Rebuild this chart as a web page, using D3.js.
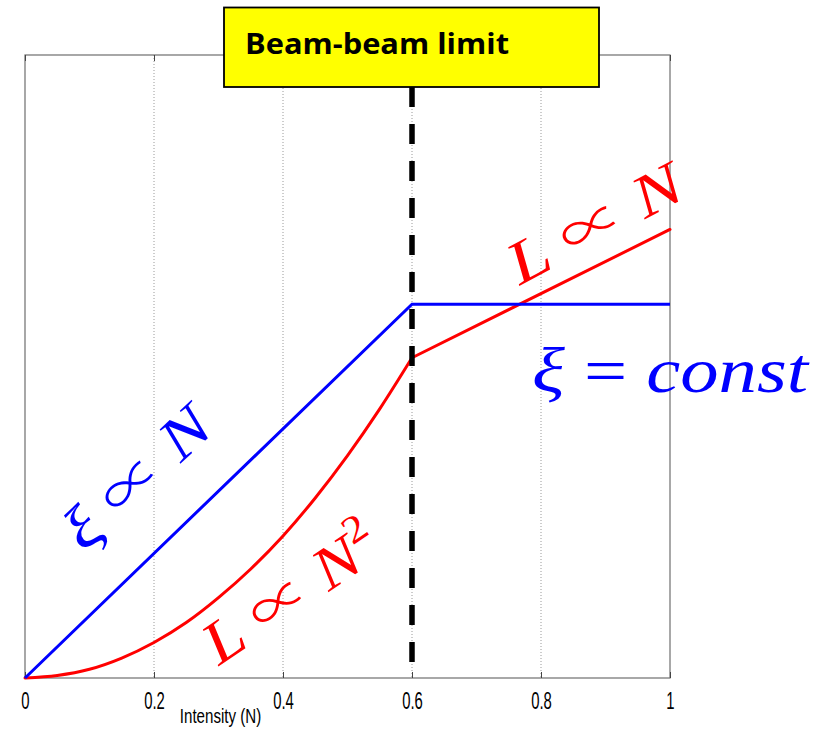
<!DOCTYPE html>
<html>
<head>
<meta charset="utf-8">
<script src="https://cdn.jsdelivr.net/npm/d3@7"></script>
<style>
  body { margin: 0; background: #fff; }
  svg { display: block; }
</style>
</head>
<body>
<div id="chart"></div>
<script>
// values
const xTicks = [0, 0.2, 0.4, 0.6, 0.8, 1];
const xTickLabels = ['0', '0.2', '0.4', '0.6', '0.8', '1'];
const gridTicks = [0.2, 0.4, 0.6, 0.8];

const xiIntensity = [0, 0.6, 1];
const xiValues = [0, 0.6, 0.6];

// luminosity below the limit (curved part)
const lumLowIntensity = [0, 0.05, 0.1, 0.15, 0.2, 0.25, 0.3, 0.35, 0.4, 0.45, 0.5, 0.55, 0.6];
const lumLowValues = [0, 0.004, 0.014, 0.032, 0.057, 0.089, 0.129, 0.175, 0.228, 0.289, 0.357, 0.432, 0.514];
// luminosity above the limit (straight part)
const lumHighIntensity = [0.6, 1];
const lumHighValues = [0.514, 0.72];

const beamBeamLimit = 0.6;

const width = 819;
const height = 731;
const margin = { top: 55, right: 149, bottom: 53, left: 25 };
const usableArea = {
  top: margin.top,
  right: width - margin.right,
  bottom: height - margin.bottom,
  left: margin.left,
  width: width - margin.left - margin.right,
  height: height - margin.top - margin.bottom,
};

const svg = d3.select('#chart')
  .append('svg')
  .attr('width', width)
  .attr('height', height);

const xScale = d3.scaleLinear()
  .domain([0, 1])
  .range([usableArea.left, usableArea.right]);

const yScale = d3.scaleLinear()
  .domain([0, 1])
  .range([usableArea.bottom, usableArea.top]);

// dotted grid
svg.append('g')
  .selectAll('line')
  .data(gridTicks)
  .join('line')
  .attr('x1', (d) => xScale(d)).attr('x2', (d) => xScale(d))
  .attr('y1', usableArea.top).attr('y2', usableArea.bottom)
  .attr('stroke', '#9a9a9a')
  .attr('stroke-width', 1)
  .attr('stroke-dasharray', '1,2');

// frame
svg.append('rect')
  .attr('x', usableArea.left)
  .attr('y', usableArea.top)
  .attr('width', usableArea.width)
  .attr('height', usableArea.height)
  .attr('fill', 'none')
  .attr('stroke', '#6e6e6e')
  .attr('stroke-width', 1.2);

const axisFont = '"Liberation Sans", Arial, sans-serif';

// inner ticks, bottom and top
const xAxis = d3.axisBottom(xScale)
  .tickValues(xTicks)
  .tickFormat((d, i) => xTickLabels[i])
  .tickSizeInner(-6)
  .tickSizeOuter(0)
  .tickPadding(14);

const gx = svg.append('g')
  .attr('transform', `translate(0, ${usableArea.bottom})`)
  .call(xAxis);
gx.select('.domain').remove();
gx.selectAll('.tick line').attr('stroke', '#444');
gx.selectAll('.tick text')
  .attr('font-family', axisFont)
  .attr('font-size', 24)
  .attr('fill', '#000')
  .attr('transform', 'scale(0.62,1)');

const gxTop = svg.append('g')
  .attr('transform', `translate(0, ${usableArea.top})`)
  .call(d3.axisTop(xScale).tickValues(xTicks).tickFormat('').tickSizeInner(-6).tickSizeOuter(0));
gxTop.select('.domain').remove();
gxTop.selectAll('.tick line').attr('stroke', '#444');

svg.append('text')
  .attr('transform', `translate(${xScale(0.3) + 2}, 723) scale(0.72,1)`)
  .attr('text-anchor', 'middle')
  .attr('font-family', axisFont)
  .attr('font-size', 21)
  .text('Intensity (N)');

const line = d3.line()
  .x((d) => xScale(d[0]))
  .y((d) => yScale(d[1]));

svg.append('path')
  .datum(d3.zip(lumLowIntensity, lumLowValues))
  .attr('d', line.curve(d3.curveMonotoneX))
  .attr('fill', 'none')
  .attr('stroke', '#ff0000')
  .attr('stroke-width', 3)
  .attr('stroke-linecap', 'round');

svg.append('path')
  .datum(d3.zip(lumHighIntensity, lumHighValues))
  .attr('d', line.curve(d3.curveLinear))
  .attr('fill', 'none')
  .attr('stroke', '#ff0000')
  .attr('stroke-width', 3)
  .attr('stroke-linecap', 'round');

svg.append('path')
  .datum(d3.zip(xiIntensity, xiValues))
  .attr('d', line.curve(d3.curveLinear))
  .attr('fill', 'none')
  .attr('stroke', '#0000ff')
  .attr('stroke-width', 3);

// beam-beam limit marker
svg.append('line')
  .attr('x1', xScale(beamBeamLimit)).attr('x2', xScale(beamBeamLimit))
  .attr('y1', 87).attr('y2', usableArea.bottom - 10)
  .attr('stroke', '#000')
  .attr('stroke-width', 5.5)
  .attr('stroke-dasharray', '20,17');

svg.append('rect')
  .attr('x', 224)
  .attr('y', 7.5)
  .attr('width', 375)
  .attr('height', 79.5)
  .attr('fill', '#ffff00')
  .attr('stroke', '#000')
  .attr('stroke-width', 1.8);

svg.append('text')
  .attr('x', 245)
  .attr('y', 54)
  .attr('font-family', '"Open Sans", Lato, sans-serif')
  .attr('font-weight', 'bold')
  .attr('font-size', 28)
  .attr('textLength', 264)
  .attr('lengthAdjust', 'spacingAndGlyphs')
  .text('Beam-beam limit');

// math annotations
const mathFont = '"Liberation Serif", "DejaVu Serif", serif';
const propFont = '"Noto Sans CJK JP", "DejaVu Sans", sans-serif';

function mathLabel(cx, cy, angle, color, size, len, parts) {
  const t = svg.append('text')
    .attr('transform', `translate(${cx},${cy}) rotate(${angle})`)
    .attr('text-anchor', 'middle')
    .attr('font-family', mathFont)
    .attr('font-size', size)
    .attr('fill', color)
    .attr('textLength', len)
    .attr('lengthAdjust', 'spacingAndGlyphs');
  parts.forEach((p) => {
    const s = t.append('tspan')
      .attr('font-style', p.italic ? 'italic' : 'normal')
      .text(p.text);
    if (p.prop) s.attr('font-family', propFont).attr('font-weight', 300).attr('font-size', size * 0.9);
    if (p.sup) s.attr('dy', -size * 0.42).attr('font-size', size * 0.65);
  });
  return t;
}

mathLabel(150, 492, -43, '#0000ff', 60, 180, [
  { text: 'ξ  ', italic: true }, { text: '∝', prop: true }, { text: '  N', italic: true }
]);

mathLabel(302, 610, -34, '#ff0000', 60, 200, [
  { text: 'L  ', italic: true }, { text: '∝', prop: true }, { text: '  N', italic: true }, { text: '2', sup: true }
]);

mathLabel(604, 241, -28, '#ff0000', 60, 190, [
  { text: 'L  ', italic: true }, { text: '∝', prop: true }, { text: '  N', italic: true }
]);

svg.append('text')
  .attr('x', 532)
  .attr('y', 392)
  .attr('font-family', mathFont)
  .attr('font-size', 64)
  .attr('fill', '#0000ff')
  .attr('textLength', 276)
  .attr('lengthAdjust', 'spacingAndGlyphs')
  .call((t) => {
    t.append('tspan').attr('font-style', 'italic').text('ξ');
    t.append('tspan').text(' = ');
    t.append('tspan').attr('font-style', 'italic').text('const');
  });
</script>
</body>
</html>
